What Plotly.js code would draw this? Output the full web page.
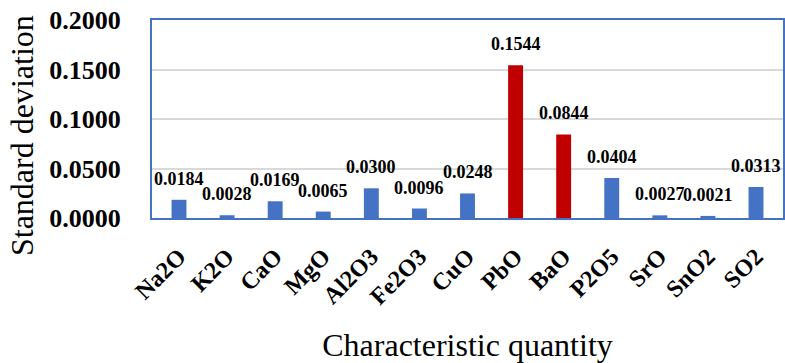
<!DOCTYPE html>
<html><head><meta charset="utf-8">
<script src="https://cdn.plot.ly/plotly-3.0.1.min.js"></script>
<style>html,body{margin:0;padding:0;background:#fff}#chart{width:785px;height:363px}</style>
</head><body><div id="chart"></div>
<script>
const categories = ["Na2O","K2O","CaO","MgO","Al2O3","Fe2O3","CuO","PbO","BaO","P2O5","SrO","SnO2","SO2"];
const stdValues = [0.0184,0.0028,0.0169,0.0065,0.0300,0.0096,0.0248,0.1544,0.0844,0.0404,0.0027,0.0021,0.0313];
const highlighted = ["PbO","BaO"];
const labels = stdValues.map(v => v.toFixed(4));
const colors = categories.map(c => highlighted.includes(c) ? "#C00000" : "#4472C4");
const serif = "'Liberation Serif', 'Times New Roman', serif";

const trace = {
  type: "bar", x: categories, y: stdValues,
  marker: {color: colors},
  hoverinfo: "x+y"
};
const valueLabels = categories.map((c, i) => ({
  x: c, y: stdValues[i], xref: "x", yref: "y",
  text: labels[i], showarrow: false,
  xanchor: "center", yanchor: "bottom", yshift: 9,
  font: {family: serif, size: 18, color: "#000", weight: "bold"}
}));
const layout = {
  width: 785, height: 363,
  margin: {l: 152, r: 2, t: 20, b: 145},
  paper_bgcolor: "#fff", plot_bgcolor: "#fff",
  showlegend: false, bargap: 0.69,
  font: {family: serif, color: "#000"},
  xaxis: {
    type: "category", tickangle: -45,
    tickfont: {family: serif, size: 24, weight: "bold"},
    ticks: "outside", ticklen: 13, tickcolor: "rgba(0,0,0,0)",
    showline: true, linecolor: "#4472C4", linewidth: 2, mirror: true,
    showgrid: false,
    title: {text: "Characteristic quantity", font: {family: serif, size: 32}, standoff: 40}
  },
  yaxis: {
    range: [0, 0.2], dtick: 0.05, tickformat: ".4f",
    tickfont: {family: serif, size: 26, weight: "bold"},
    ticks: "outside", ticklen: 24, tickcolor: "rgba(0,0,0,0)",
    showline: true, linecolor: "#4472C4", linewidth: 2, mirror: true,
    showgrid: true, gridcolor: "#D9D9D9", gridwidth: 2, zeroline: false
  },
  annotations: valueLabels.concat([{
    text: "Standard deviation", textangle: -90,
    xref: "paper", yref: "paper", x: -0.206, y: 0.414,
    xanchor: "center", yanchor: "middle", showarrow: false,
    font: {family: serif, size: 32, color: "#000"}
  }])
};
Plotly.newPlot("chart", [trace], layout, {displayModeBar: false, staticPlot: true});
</script></body></html>
